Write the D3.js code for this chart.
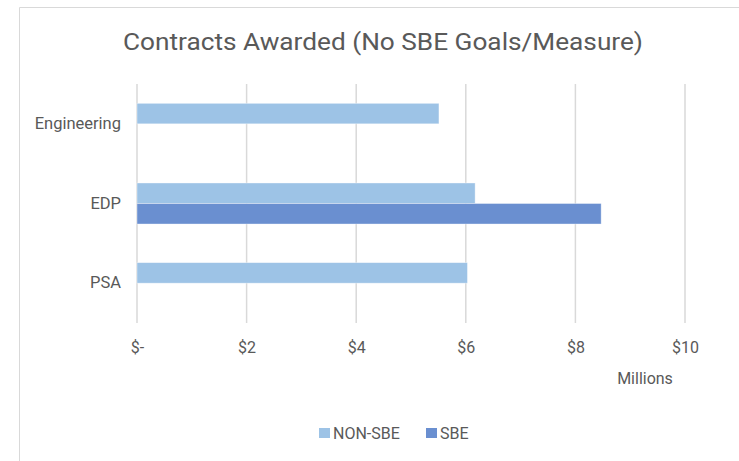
<!DOCTYPE html>
<html>
<head>
<meta charset="utf-8">
<script src="https://cdn.jsdelivr.net/npm/d3@7"></script>
<style>
  body { margin: 0; background: #fff; }
  text { font-family: Roboto, "Open Sans", sans-serif; fill: #595959; }
</style>
</head>
<body>
<script>
// categories top to bottom, one value per series (millions of dollars)
var categories = ["Engineering", "EDP", "PSA"];
var seriesNames = ["NON-SBE", "SBE"];
var nonSbe = [5.51, 6.17, 6.03];
var sbe = [0, 8.47, 0];
var tickValues = [0, 2, 4, 6, 8, 10];
var tickLabels = ["$-", "$2", "$4", "$6", "$8", "$10"];
var colors = ["#9dc3e6", "#6a8fd0"];

var width = 739, height = 461;
var margin = {top: 84, right: 54, bottom: 138, left: 137};

var svg = d3.select("body").append("svg")
    .attr("width", width)
    .attr("height", height);

// chart frame (only top and left edges are visible)
svg.append("path")
    .attr("d", "M19.5," + height + "V7.5H" + width)
    .attr("fill", "none")
    .attr("stroke", "#d9d9d9")
    .attr("stroke-width", 1);

var x = d3.scaleLinear()
    .domain([0, 10])
    .range([margin.left, width - margin.right]);

var y = d3.scaleBand()
    .domain(categories)
    .range([margin.top, height - margin.bottom])
    .paddingInner(0.485)
    .paddingOuter(0.2425);

var ySub = d3.scaleBand()
    .domain(seriesNames)
    .range([0, y.bandwidth()]);

// gridlines
svg.append("g")
  .selectAll("line")
    .data(tickValues)
  .enter().append("line")
    .attr("x1", function(d) { return x(d); })
    .attr("x2", function(d) { return x(d); })
    .attr("y1", margin.top)
    .attr("y2", height - margin.bottom)
    .attr("stroke", "#d9d9d9")
    .attr("stroke-width", 1.5);

// bars
var rows = categories.map(function(c, i) {
  return {cat: c, vals: [nonSbe[i], sbe[i]]};
});

var group = svg.append("g")
  .selectAll("g")
    .data(rows)
  .enter().append("g")
    .attr("transform", function(d) { return "translate(0," + y(d.cat) + ")"; });

group.selectAll("rect")
    .data(function(d) {
      return d.vals.map(function(v, j) { return {name: seriesNames[j], v: v, j: j}; })
        .filter(function(e) { return e.v > 0; });
    })
  .enter().append("rect")
    .attr("x", x(0))
    .attr("y", function(d) { return ySub(d.name); })
    .attr("width", function(d) { return x(d.v) - x(0); })
    .attr("height", ySub.bandwidth())
    .attr("fill", function(d) { return colors[d.j]; })
    .attr("stroke", "#fff")
    .attr("stroke-opacity", 0.5)
    .attr("stroke-width", 0.75);

// x axis labels
var xAxis = d3.axisBottom(x)
    .tickValues(tickValues)
    .tickFormat(function(d, i) { return tickLabels[i]; })
    .tickSize(0)
    .tickPadding(0);

var gx = svg.append("g")
    .attr("transform", "translate(0," + 347 + ")")
    .call(xAxis);
gx.select(".domain").remove();
gx.selectAll("text")
    .attr("dy", "0.35em")
    .attr("y", 0)
    .style("font-family", "Roboto, sans-serif")
    .style("font-size", "16px")
    .style("fill", "#595959");

// y axis labels
var yAxis = d3.axisLeft(y).tickSize(0).tickPadding(16);
var gy = svg.append("g")
    .attr("transform", "translate(" + margin.left + "," + 0 + ")")
    .call(yAxis);
gy.select(".domain").remove();
gy.selectAll("text")
    .style("font-family", "Roboto, sans-serif")
    .style("font-size", "16.5px")
    .style("fill", "#595959");

// axis unit
svg.append("text")
    .attr("x", 645)
    .attr("y", 378)
    .attr("dy", "0.35em")
    .style("text-anchor", "middle")
    .style("font-size", "16px")
    .text("Millions");

// title
svg.append("text")
    .attr("x", 383)
    .attr("y", 42)
    .attr("dy", "0.35em")
    .style("text-anchor", "middle")
    .style("font-size", "24px")
    .attr("textLength", 520)
    .attr("lengthAdjust", "spacingAndGlyphs")
    .text("Contracts Awarded (No SBE Goals/Measure)");

// legend
var legend = svg.append("g")
  .selectAll("g")
    .data(seriesNames)
  .enter().append("g")
    .attr("transform", function(d, i) { return "translate(" + [319, 426][i] + ",428)"; });

legend.append("rect")
    .attr("width", 11)
    .attr("height", 10)
    .attr("fill", function(d, i) { return colors[i]; });

legend.append("text")
    .attr("x", 14)
    .attr("y", 5)
    .attr("dy", "0.35em")
    .style("font-size", "16px")
    .text(function(d) { return d; });
</script>
</body>
</html>
